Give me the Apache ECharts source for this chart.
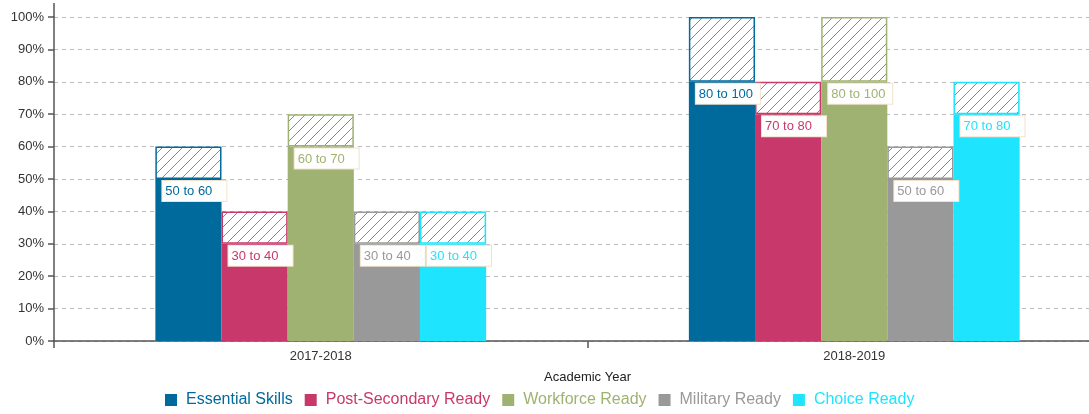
<!DOCTYPE html>
<html>
<head>
<meta charset="utf-8">
<script src="https://cdn.jsdelivr.net/npm/echarts@6/dist/echarts.min.js"></script>
<style>
html,body{margin:0;padding:0;background:#fff;}
#chart{width:1089px;height:414px;}
</style>
</head>
<body>
<div id="chart"></div>
<script>
const categories = ['2017-2018', '2018-2019'];
const seriesNames = ['Essential Skills', 'Post-Secondary Ready', 'Workforce Ready', 'Military Ready', 'Choice Ready'];
const seriesColors = ['#006a9c', '#c9386a', '#a0b272', '#999999', '#1ee5fd'];
const yTicks = [0, 10, 20, 30, 40, 50, 60, 70, 80, 90, 100];

const essentialLow = [50, 80];
const essentialHigh = [60, 100];
const postSecondaryLow = [30, 70];
const postSecondaryHigh = [40, 80];
const workforceLow = [60, 80];
const workforceHigh = [70, 100];
const militaryLow = [30, 50];
const militaryHigh = [40, 60];
const choiceLow = [30, 70];
const choiceHigh = [40, 80];

const lows = [essentialLow, postSecondaryLow, workforceLow, militaryLow, choiceLow];
const highs = [essentialHigh, postSecondaryHigh, workforceHigh, militaryHigh, choiceHigh];

function hatchPattern() {
  const c = document.createElement('canvas');
  c.width = 10; c.height = 10;
  const ctx = c.getContext('2d');
  ctx.fillStyle = '#ffffff';
  ctx.fillRect(0, 0, 10, 10);
  ctx.strokeStyle = '#888888';
  ctx.lineWidth = 1;
  ctx.beginPath();
  ctx.moveTo(0, 10); ctx.lineTo(10, 0);
  ctx.moveTo(-5, 5); ctx.lineTo(5, -5);
  ctx.moveTo(5, 15); ctx.lineTo(15, 5);
  ctx.stroke();
  return c;
}
const hatch = hatchPattern();

const FONT = '"Liberation Sans", Arial, sans-serif';
const series = [];
seriesNames.forEach(function (name, i) {
  const low = lows[i], high = highs[i];
  series.push({
    name: name,
    type: 'bar',
    stack: 's' + i,
    barGap: '0%',
    barCategoryGap: '38%',
    itemStyle: { color: seriesColors[i] },
    data: low,
    label: {
      show: true,
      position: [7, 2],
      formatter: function (p) { return low[p.dataIndex] + ' to ' + high[p.dataIndex]; },
      color: seriesColors[i],
      fontFamily: FONT,
      fontSize: 13,
      backgroundColor: '#ffffff',
      borderColor: '#f2e2cc',
      borderWidth: 1,
      width: 48,
      overflow: 'none',
      padding: [4, 13, 3, 3]
    },
    z: 2
  });
  series.push({
    name: name + ' range',
    type: 'bar',
    stack: 's' + i,
    barGap: '0%',
    barCategoryGap: '38%',
    itemStyle: {
      color: { image: hatch, repeat: 'repeat' },
      borderColor: seriesColors[i],
      borderWidth: 1.5
    },
    data: high.map(function (h, k) { return h - low[k]; }),
    z: 2
  });
});

const chart = echarts.init(document.getElementById('chart'), null, { renderer: 'canvas' });
chart.setOption({
  animation: false,
  textStyle: { fontFamily: FONT },
  grid: { left: 54, width: 1067, top: 17, bottom: 73, containLabel: false, outerBoundsMode: 'none' },
  legend: {
    data: seriesNames.map(function (n, i) { return { name: n, textStyle: { color: seriesColors[i] } }; }),
    left: 165,
    top: 392,
    padding: 0,
    icon: 'rect',
    itemWidth: 12,
    itemHeight: 12,
    itemGap: 12,
    textStyle: { fontSize: 16, fontFamily: FONT, padding: [0, 0, 0, 4] }
  },
  xAxis: {
    type: 'category',
    data: categories,
    name: 'Academic Year',
    nameLocation: 'middle',
    nameGap: 30,
    nameTextStyle: { color: '#222', fontSize: 13, fontFamily: FONT },
    axisLine: { lineStyle: { color: '#555', width: 1.5 } },
    axisTick: { show: true, length: 7, lineStyle: { color: '#555', width: 1.5 } },
    axisLabel: { color: '#333', fontSize: 13, margin: 9, fontFamily: FONT }
  },
  yAxis: {
    type: 'value',
    min: yTicks[0],
    max: yTicks[yTicks.length - 1],
    interval: 10,
    axisLine: { show: true, lineStyle: { color: '#555', width: 1.5 } },
    axisTick: { show: true, length: 6, lineStyle: { color: '#555', width: 1.5 } },
    axisLabel: { formatter: '{value}%', color: '#333', fontSize: 13, margin: 10, fontFamily: FONT },
    splitLine: { show: true, lineStyle: { color: '#bbb', type: [4, 4], width: 1 } }
  },
  graphic: [{
    type: 'line',
    shape: { x1: 54, y1: 3, x2: 54, y2: 17 },
    style: { stroke: '#555', lineWidth: 1.5 }
  }],
  series: series
});
</script>
</body>
</html>
